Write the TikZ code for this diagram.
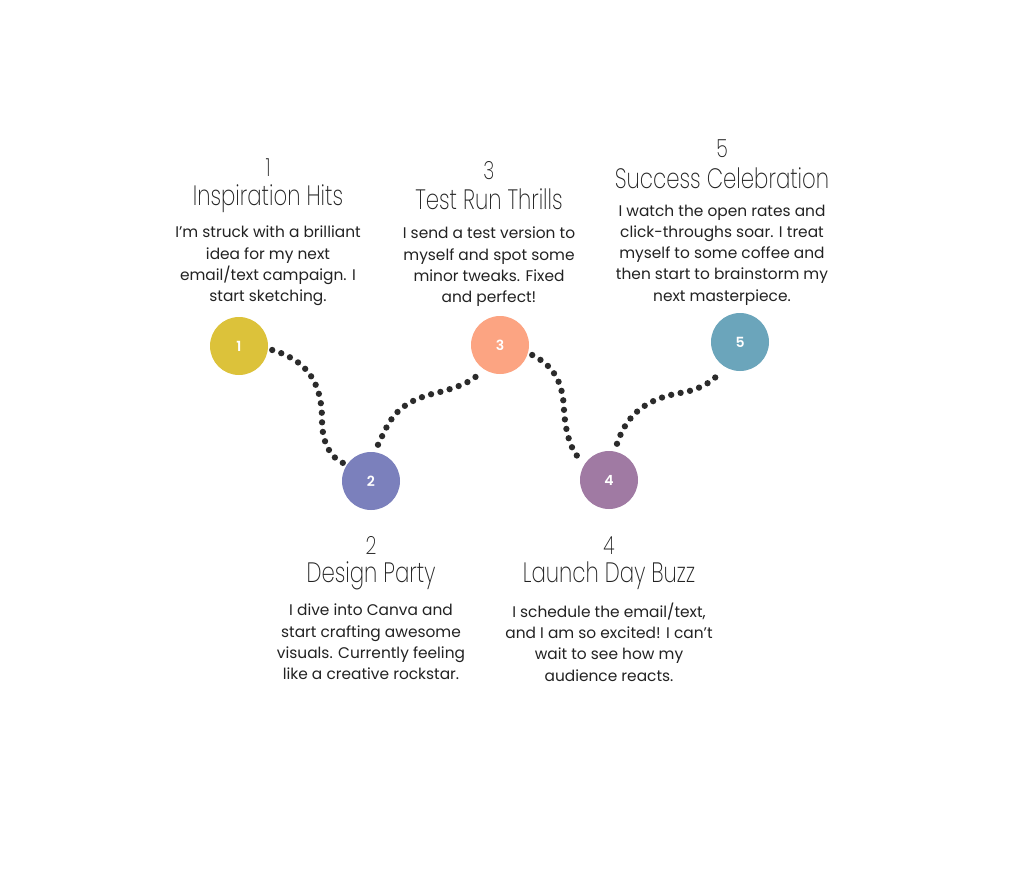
\documentclass[tikz,border=0pt]{standalone}
\usepackage{fontspec}
\setmainfont{Poppins}
\newfontfamily\bodyfont{Poppins}
\newfontfamily\titlefont{Poppins}[UprightFont=* ExtraLight, FakeStretch=0.76]
\newfontfamily\numfont{Poppins}[UprightFont=* SemiBold]
\definecolor{cA}{HTML}{DCC23A}
\definecolor{cB}{HTML}{7B80BC}
\definecolor{cC}{HTML}{FCA482}
\definecolor{cD}{HTML}{A07AA3}
\definecolor{cE}{HTML}{6BA5BB}
\definecolor{dotc}{HTML}{2B2B2B}
\definecolor{txt}{HTML}{222222}
\tikzset{
  stepdot/.style={circle, minimum size=58pt, inner sep=0pt, text=white, font=\numfont\fontsize{14}{14}\selectfont},
  numlab/.style={text=txt, font=\titlefont\fontsize{25}{25}\selectfont, inner sep=0pt},
  titlelab/.style={text=txt, font=\titlefont\fontsize{28}{28}\selectfont, inner sep=0pt},
  bodylab/.style={text=txt, align=center, font=\bodyfont\fontsize{15.4}{21.3}\selectfont, inner sep=0pt},
  dotline/.style={draw=dotc, line width=6.3pt, line cap=round, dash pattern=on 0pt off 9.6pt}
}
\begin{document}
\begin{tikzpicture}[x=1pt,y=-1pt]
\useasboundingbox (0,0) rectangle (1015,888);
\fill[white] (0,0) rectangle (1015,888);
% circles
\node[stepdot, fill=cA] (s1) at (239,346) {1};
\node[stepdot, fill=cB] (s2) at (371,481) {2};
\node[stepdot, fill=cC] (s3) at (500,345) {3};
\node[stepdot, fill=cD] (s4) at (609,480) {4};
\node[stepdot, fill=cE] (s5) at (740,342) {5};
% connectors
\draw[dotline] (s1.east) ++(4,4) coordinate (a1) .. controls (305,360) and (322,380) .. (322,420) .. controls (322,445) and (332,458) .. (343,463) coordinate (a2);
\draw[dotline] (s2.north) ++(7,-7) coordinate (b1) .. controls (390,420) and (395,402) .. (440,392) .. controls (462,386) and (475,380) .. (481,371) coordinate (b2);
\draw[dotline] (s3.east) ++(3,10) coordinate (c1) .. controls (552,365) and (563,380) .. (564,410) .. controls (566,440) and (574,455) .. (583,462) coordinate (c2);
\draw[dotline] (s4.north) ++(8,-7) coordinate (d1) .. controls (625,420) and (640,400) .. (680,393) .. controls (700,390) and (715,380) .. (720,372) coordinate (d2);
% block 1
\node[numlab] (n1) at (268,168) {1};
\node[titlelab] (t1) at (268,199) {Inspiration Hits};
\node[bodylab] (b1t) at (268,266) {I’m struck with a brilliant\\idea for my next\\email/text campaign. I\\start sketching.};
% block 3
\node[numlab] (n3) at (489,171) {3};
\node[titlelab] (t3) at (489,199) {Test Run Thrills};
\node[bodylab] (b3t) at (489,267) {I send a test version to\\myself and spot some\\minor tweaks. Fixed\\and perfect!};
% block 5
\node[numlab] (n5) at (722,149) {5};
\node[titlelab] (t5) at (722,178) {Success Celebration};
\node[bodylab] (b5t) at (722,255) {I watch the open rates and\\click-throughs soar. I treat\\myself to some coffee and\\then start to brainstorm my\\next masterpiece.};
% block 2
\node[numlab] (n2) at (371,545) {2};
\node[titlelab] (t2) at (371,576) {Design Party};
\node[bodylab] (b2t) at (371,642) {I dive into Canva and\\start crafting awesome\\visuals. Currently feeling\\like a creative rockstar.};
% block 4
\node[numlab] (n4) at (609,546) {4};
\node[titlelab] (t4) at (609,576) {Launch Day Buzz};
\node[bodylab] (b4t) at (609,642) {I schedule the email/text,\\and I am so excited! I can’t\\wait to see how my\\audience reacts.};
\end{tikzpicture}
\end{document}
